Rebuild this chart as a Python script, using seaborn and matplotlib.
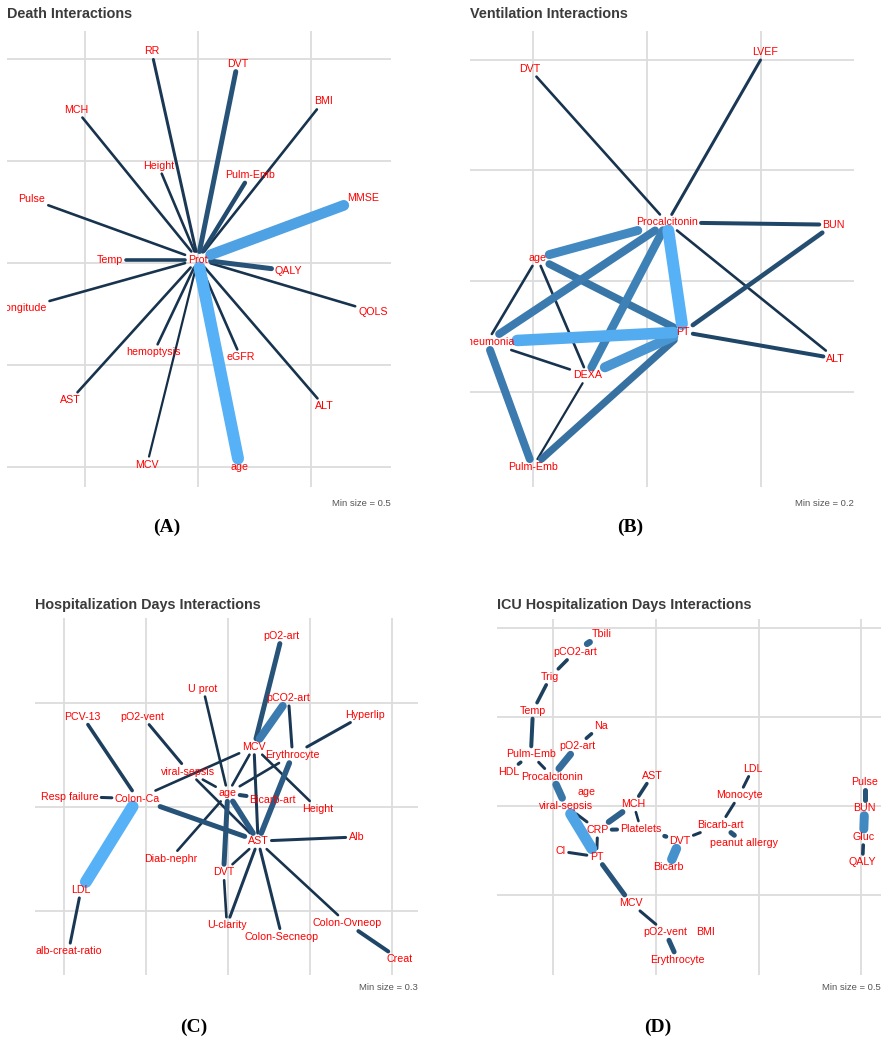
import numpy as np
import pandas as pd
import matplotlib
matplotlib.use("Agg")
import matplotlib.pyplot as plt
from matplotlib.colors import LinearSegmentedColormap
from matplotlib import font_manager
import seaborn as sns

# ---------------------------------------------------------------- data
# Panel A: Death interactions (layout in grid units)
death_nodes = ["Prot", "RR", "DVT", "BMI", "MCH", "Height", "Pulm-Emb", "MMSE",
               "Pulse", "Temp", "QALY", "Longitude", "QOLS", "hemoptysis",
               "eGFR", "AST", "ALT", "MCV", "age"]
death_x = [0.00, -0.41, 0.35, 1.11, -1.08, -0.35, 0.46, 1.46,
           -1.47, -0.78, 0.80, -1.55, 1.55, -0.39,
           0.38, -1.13, 1.12, -0.45, 0.37]
death_y = [0.03, 2.07, 1.95, 1.58, 1.50, 0.95, 0.86, 0.63,
           0.62, 0.03, -0.08, -0.45, -0.48, -0.88,
           -0.93, -1.35, -1.41, -1.98, -2.00]
death_src = ["Prot"] * 18
death_dst = ["RR", "DVT", "BMI", "MCH", "Height", "Pulm-Emb", "MMSE", "Pulse",
             "Temp", "QALY", "Longitude", "QOLS", "hemoptysis", "eGFR", "AST",
             "ALT", "MCV", "age"]
death_w = [0.55, 0.65, 0.53, 0.53, 0.53, 0.62, 0.94, 0.53,
           0.58, 0.65, 0.53, 0.53, 0.53, 0.53, 0.53,
           0.53, 0.51, 1.00]

# Panel B: Ventilation interactions
vent_nodes = ["DVT", "LVEF", "Procalcitonin", "BUN", "age", "Pneumonia", "PT",
              "DEXA", "ALT", "Pulm-Emb"]
vent_x = [-1.03, 1.04, 0.18, 1.64, -0.96, -1.40, 0.32, -0.52, 1.66, -1.00]
vent_y = [1.92, 2.07, 0.53, 0.51, 0.21, -0.55, -0.46, -0.85, -0.70, -1.68]
vent_src = ["Procalcitonin", "Procalcitonin", "Procalcitonin", "Procalcitonin",
            "BUN", "PT", "age", "Pneumonia", "DEXA", "Procalcitonin", "age",
            "Pneumonia", "DEXA", "Pulm-Emb", "Pneumonia", "age", "age",
            "Pneumonia", "DEXA"]
vent_dst = ["DVT", "LVEF", "BUN", "ALT", "PT", "ALT", "Procalcitonin",
            "Procalcitonin", "Procalcitonin", "PT", "PT", "PT", "PT", "PT",
            "Pulm-Emb", "Pneumonia", "DEXA", "DEXA", "Pulm-Emb"]
vent_w = [0.23, 0.25, 0.30, 0.23, 0.33, 0.30, 0.55, 0.50, 0.52, 0.70, 0.48,
          0.68, 0.60, 0.46, 0.50, 0.23, 0.23, 0.23, 0.21]

# Panel C: Hospitalization days interactions
hosp_nodes = ["pO2-art", "U prot", "pCO2-art", "Hyperlip", "PCV-13", "pO2-vent",
              "MCV", "Erythrocyte", "viral-sepsis", "age", "Bicarb-art",
              "Resp failure", "Colon-Ca", "Height", "AST", "Alb", "Diab-nephr",
              "DVT", "LDL", "U-clarity", "Colon-Ovneop", "Colon-Secneop",
              "alb-creat-ratio", "Creat"]
hosp_x = [0.66, -0.30, 0.74, 1.67, -1.77, -1.04, 0.32, 0.79, -0.48, 0.00, 0.55,
          -1.93, -1.10, 1.10, 0.37, 1.57, -0.70, -0.05, -1.79, -0.01, 1.45,
          0.66, -1.94, 2.10]
hosp_y = [1.65, 1.14, 1.05, 0.89, 0.87, 0.87, 0.58, 0.50, 0.34, 0.13, 0.07,
          0.10, 0.08, -0.02, -0.33, -0.29, -0.50, -0.63, -0.80, -1.14, -1.12,
          -1.25, -1.39, -1.47]
hosp_src = ["pO2-art", "pCO2-art", "pCO2-art", "Hyperlip", "U prot", "PCV-13",
            "pO2-vent", "MCV", "Resp failure", "MCV", "MCV", "MCV",
            "Erythrocyte", "Erythrocyte", "viral-sepsis", "viral-sepsis", "age",
            "age", "age", "age", "Colon-Ca", "Colon-Ca", "LDL", "AST", "AST",
            "AST", "AST", "AST", "DVT", "Colon-Ovneop"]
hosp_dst = ["MCV", "MCV", "Erythrocyte", "Erythrocyte", "age", "Colon-Ca",
            "viral-sepsis", "Colon-Ca", "Colon-Ca", "age", "AST", "Height",
            "age", "AST", "age", "AST", "Bicarb-art", "AST", "DVT", "Diab-nephr",
            "AST", "LDL", "alb-creat-ratio", "Alb", "DVT", "U-clarity",
            "Colon-Secneop", "Colon-Ovneop", "U-clarity", "Creat"]
hosp_w = [0.45, 0.60, 0.35, 0.35, 0.33, 0.38, 0.35, 0.33, 0.35, 0.33, 0.35,
          0.33, 0.33, 0.48, 0.33, 0.33, 0.40, 0.48, 0.45, 0.33, 0.45, 0.80,
          0.35, 0.35, 0.33, 0.35, 0.35, 0.33, 0.33, 0.40]

# Panel D: ICU hospitalization days interactions
icu_nodes = ["Tbili", "pCO2-art", "Trig", "Temp", "Na", "pO2-art", "Pulm-Emb",
             "HDL", "Procalcitonin", "LDL", "AST", "Pulse", "Monocyte", "age",
             "viral-sepsis", "MCH", "BUN", "CRP", "Platelets", "Bicarb-art",
             "DVT", "peanut allergy", "Gluc", "Cl", "PT", "Bicarb", "QALY",
             "MCV", "pO2-vent", "BMI", "Erythrocyte"]
icu_x = [0.47, 0.21, -0.03, -0.20, 0.46, 0.23, -0.22, -0.44, -0.01, 1.94, 0.96,
         3.03, 1.81, 0.32, 0.12, 0.78, 3.03, 0.43, 0.85, 1.63, 1.23, 1.86, 3.02,
         0.07, 0.42, 1.12, 3.01, 0.75, 1.09, 1.48, 1.21]
icu_y = [1.93, 1.73, 1.45, 1.07, 0.90, 0.67, 0.58, 0.38, 0.33, 0.42, 0.34, 0.27,
         0.12, 0.16, 0.00, 0.02, -0.02, -0.27, -0.26, -0.21, -0.39, -0.42,
         -0.35, -0.51, -0.57, -0.69, -0.63, -1.09, -1.42, -1.42, -1.73]
icu_src = ["Tbili", "pCO2-art", "Trig", "Temp", "Pulm-Emb", "Pulm-Emb",
           "Procalcitonin", "pO2-art", "Na", "viral-sepsis", "viral-sepsis",
           "CRP", "CRP", "CRP", "Cl", "MCH", "MCH", "Platelets", "DVT", "DVT",
           "Bicarb-art", "Monocyte", "Bicarb-art", "PT", "MCV", "pO2-vent",
           "Pulse", "BUN", "Gluc"]
icu_dst = ["pCO2-art", "Trig", "Temp", "Pulm-Emb", "HDL", "Procalcitonin",
           "viral-sepsis", "Procalcitonin", "pO2-art", "PT", "CRP", "MCH",
           "Platelets", "PT", "PT", "AST", "Platelets", "DVT", "Bicarb",
           "Bicarb-art", "Monocyte", "LDL", "peanut allergy", "MCV", "pO2-vent",
           "Erythrocyte", "BUN", "Gluc", "QALY"]
icu_w = [0.72, 0.58, 0.58, 0.60, 0.58, 0.55, 0.78, 0.75, 0.58, 0.95, 0.55,
         0.70, 0.60, 0.55, 0.55, 0.58, 0.53, 0.62, 0.88, 0.55, 0.55, 0.55,
         0.65, 0.65, 0.55, 0.65, 0.65, 0.85, 0.58]

# ---------------------------------------------------------------- style
W, H, DPI = 886, 1040, 100
sns.set_theme(style="whitegrid")
available = {f.name for f in font_manager.fontManager.ttflist}
NARROW = "Liberation Sans Narrow" in available
SANS = "Liberation Sans Narrow" if NARROW else "Liberation Sans"
plt.rcParams["font.family"] = [SANS, "DejaVu Sans"]
LABEL_PT = 9.0 if NARROW else 7.7
TITLE_PT = 12.6 if NARROW else 10.4
CAPTION_PT = 8.1 if NARROW else 6.8

EDGE_CMAP = LinearSegmentedColormap.from_list("edge_blue", ["#132B43", "#56B1F7"])
LABEL_PAD = 3.0  # px of clearance between an edge end and its label box

fig = plt.figure(figsize=(W / DPI, H / DPI), dpi=DPI)
fig.patch.set_facecolor("white")


def px_axes(left, top, right, bottom):
    return fig.add_axes([left / W, 1 - bottom / H, (right - left) / W, (bottom - top) / H])


def exit_param(p, d, box):
    ts = []
    if d[0] > 0:
        ts.append((box[2] - p[0]) / d[0])
    elif d[0] < 0:
        ts.append((box[0] - p[0]) / d[0])
    if d[1] > 0:
        ts.append((box[3] - p[1]) / d[1])
    elif d[1] < 0:
        ts.append((box[1] - p[1]) / d[1])
    return max(0.0, min(ts)) if ts else 0.0


def draw_network(ax, nodes, xs, ys, src, dst, weights, xlim, ylim, xgrid, ygrid, wrange):
    ax.set_facecolor("white")
    for s in ax.spines.values():
        s.set_visible(False)
    ax.set_xlim(*xlim)
    ax.set_ylim(*ylim)
    ax.set_xticks(xgrid)
    ax.set_yticks(ygrid)
    ax.set_xticklabels([])
    ax.set_yticklabels([])
    ax.tick_params(length=0)
    ax.grid(True, color="#dcdcdc", linewidth=1.3)

    pos = {n: np.array([x, y]) for n, x, y in zip(nodes, xs, ys)}
    renderer = fig.canvas.get_renderer()
    boxes = {}
    for n in nodes:
        t = ax.text(pos[n][0], pos[n][1], n, color="#FF0000", fontsize=LABEL_PT,
                    ha="center", va="center", zorder=5, clip_on=True)
        bb = t.get_window_extent(renderer)
        boxes[n] = (bb.x0 - LABEL_PAD, bb.y0 - LABEL_PAD, bb.x1 + LABEL_PAD, bb.y1 + LABEL_PAD)

    # edges run between label boxes, capped at each box border
    to_data = ax.transData.inverted()
    rows = []
    for k, (a, b, w) in enumerate(zip(src, dst, weights)):
        p = ax.transData.transform(pos[a])
        q = ax.transData.transform(pos[b])
        d = q - p
        t0 = exit_param(p, d, boxes[a])
        t1 = 1.0 - exit_param(q, -d, boxes[b])
        if (t1 - t0) * np.hypot(*d) < 0.5:
            continue
        s = to_data.transform(p + t0 * d)
        e = to_data.transform(p + t1 * d)
        rows.append({"edge": k, "x": s[0], "y": s[1], "weight": w})
        rows.append({"edge": k, "x": e[0], "y": e[1], "weight": w})
    edges = pd.DataFrame(rows)
    sns.lineplot(data=edges, x="x", y="y", units="edge", estimator=None,
                 hue="weight", size="weight", palette=EDGE_CMAP, hue_norm=wrange,
                 size_norm=wrange, sizes=(1.45, 8.6), sort=False, legend=False,
                 ax=ax, solid_capstyle="round", zorder=2)
    ax.set_xlim(*xlim)
    ax.set_ylim(*ylim)
    ax.set_xlabel("")
    ax.set_ylabel("")


def decorate(left, right, title_y, title, caption_y, caption, tag_x, tag_y, tag):
    fig.text(left / W, 1 - title_y / H, title, ha="left", va="center",
             fontsize=TITLE_PT, fontweight="bold", color="#3b3b3b")
    fig.text(right / W, 1 - caption_y / H, caption, ha="right", va="center",
             fontsize=CAPTION_PT, color="#555555")
    fig.text(tag_x / W, 1 - tag_y / H, tag, ha="center", va="center",
             fontsize=14, fontweight="bold", family="Liberation Serif", color="black")


# Panel A
axA = px_axes(7, 31, 391, 487)
draw_network(axA, death_nodes, death_x, death_y, death_src, death_dst, death_w,
             xlim=(-1.69, 1.71), ylim=(-2.20, 2.27), xgrid=[-1, 0, 1],
             ygrid=[-2, -1, 0, 1, 2], wrange=(0.5, 1.0))
decorate(7, 391, 14, "Death Interactions", 503, "Min size = 0.5", 167, 527, "(A)")

# Panel B
axB = px_axes(470, 31, 854, 487)
draw_network(axB, vent_nodes, vent_x, vent_y, vent_src, vent_dst, vent_w,
             xlim=(-1.55, 1.82), ylim=(-1.86, 2.26), xgrid=[-1, 0, 1],
             ygrid=[-1, 0, 1, 2], wrange=(0.2, 0.7))
decorate(470, 854, 14, "Ventilation Interactions", 503, "Min size = 0.2", 630, 527, "(B)")

# Panel C
axC = px_axes(35, 618, 418, 975)
draw_network(axC, hosp_nodes, hosp_x, hosp_y, hosp_src, hosp_dst, hosp_w,
             xlim=(-2.35, 2.32), ylim=(-1.62, 1.82), xgrid=[-2, -1, 0, 1, 2],
             ygrid=[-1, 0, 1], wrange=(0.3, 0.8))
decorate(35, 418, 605, "Hospitalization Days Interactions", 988, "Min size = 0.3", 194, 1027, "(C)")

# Panel D
axD = px_axes(497, 619, 881, 975)
draw_network(axD, icu_nodes, icu_x, icu_y, icu_src, icu_dst, icu_w,
             xlim=(-0.55, 3.19), ylim=(-1.90, 2.10), xgrid=[0, 1, 2, 3],
             ygrid=[-1, 0, 1, 2], wrange=(0.5, 1.0))
decorate(497, 881, 605, "ICU Hospitalization Days Interactions", 988, "Min size = 0.5", 658, 1027, "(D)")

fig.savefig("out.png", dpi=DPI, facecolor="white")
